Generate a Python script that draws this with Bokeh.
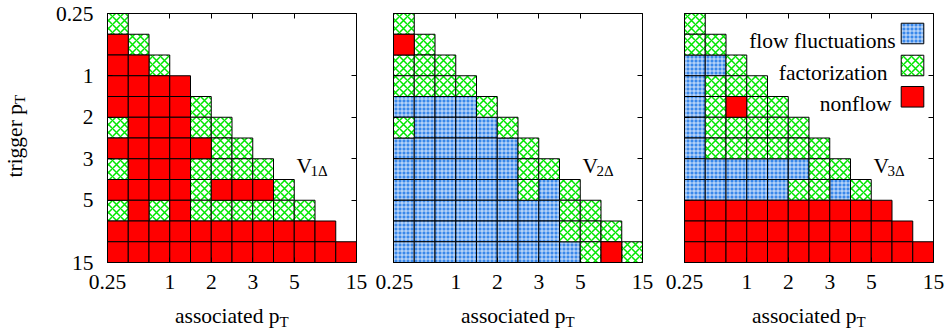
import math
from bokeh.plotting import figure
from bokeh.layouts import row
from bokeh.models import Range1d, FixedTicker, LinearAxis, Label, ColumnDataSource
from bokeh.embed import file_html
from bokeh.resources import INLINE

# ---------------- data ----------------
pt_edges = [0.25, 0.5, 0.75, 1, 1.5, 2, 2.5, 3, 4, 5, 6, 8, 15]
tick_values = [0.25, 1, 2, 3, 5, 15]
tick_labels = ["0.25", "1", "2", "3", "5", "15"]

# one string per trigger-pT bin (top to bottom), one char per associated-pT bin
# B = flow fluctuations, G = factorization, R = nonflow
v1_cells = ["G", "RG", "RRG", "RRRR", "RRRRG", "GRRRGG", "RRRRRGG", "GRRRGGGG",
            "RRRRGRRRG", "GRGRGGGGGG", "RRRRRRRRRRR", "RRRRRRRRRRRR"]
v2_cells = ["G", "RG", "GGG", "GGGG", "BBBBG", "GBBBBG", "BBBBBBG", "BBBBBBGG",
            "BBBBBBGBG", "BBBBBBBBGG", "BBBBBBBBGGG", "BBBBBBBBBGRG"]
v3_cells = ["G", "GG", "BBG", "BGGG", "BGRGG", "BGGGGG", "BGGGGGG", "BBBBBBGG",
            "BBBBBGGBG", "RRRRRRRRRR", "RRRRRRRRRRR", "RRRRRRRRRRRR"]

categories = ["B", "G", "R"]
legend_names = ["flow fluctuations", "factorization", "nonflow"]
panel_subs = ["1Δ", "2Δ", "3Δ"]

# ---------------- style ----------------
FONT = "Liberation Serif"
FS = "21.5px"
FS_SUB = "15px"
styles = {
    "B": dict(fill_color="#3a88ea", hatch_pattern="cross", hatch_color="white",
              hatch_alpha=0.75, hatch_scale=4, hatch_weight=1),
    "G": dict(fill_color="white", hatch_pattern="diagonal_cross", hatch_color="#00e600",
              hatch_scale=8, hatch_weight=1.5),
    "R": dict(fill_color="#ff0000"),
}

NB = len(pt_edges) - 1
BOX = 249
CELL = BOX / NB
FIG_H = 330
BOX_TOP = 13
tick_pos = [pt_edges.index(v) for v in tick_values]


def style_axis(ax, labels, standoff=0):
    ax.ticker = FixedTicker(ticks=tick_pos)
    ax.bounds = (0, NB)
    ax.major_tick_in = 5
    ax.major_tick_out = 0
    ax.minor_tick_in = 0
    ax.minor_tick_out = 0
    ax.axis_line_color = "black"
    ax.axis_line_width = 1
    ax.major_tick_line_color = "black"
    ax.major_label_standoff = standoff
    if labels:
        ax.major_label_overrides = {k: t for k, t in zip(tick_pos, tick_labels)}
        ax.major_label_text_font = FONT
        ax.major_label_text_font_size = FS
        ax.major_label_text_color = "black"
    else:
        ax.major_label_overrides = {k: "" for k in tick_pos}
        ax.major_label_text_font_size = "0px"


def make_panel(cells, sub, fig_left, width, box_left, y_labels, legend=False):
    def X(px):  # page pixel -> data x
        return (px - fig_left - box_left) / CELL

    def Y(py):  # page pixel -> data y
        return (py - BOX_TOP) / CELL

    def lab(text, px, py, size=FS, align="left", angle=0.0):
        p.add_layout(Label(x=X(px), y=Y(py), text=text, text_font=FONT,
                           text_font_size=size, text_align=align,
                           text_baseline="alphabetic", angle=angle, text_color="black"))

    p = figure(width=width, height=FIG_H,
               x_range=Range1d(-box_left / CELL, (width - box_left) / CELL),
               y_range=Range1d((FIG_H - BOX_TOP) / CELL, -BOX_TOP / CELL),
               output_backend="svg", toolbar_location=None, min_border=0,
               min_border_left=0, min_border_right=0, min_border_top=0,
               min_border_bottom=0)
    p.grid.visible = False
    p.outline_line_color = None
    p.background_fill_color = "white"
    p.border_fill_color = "white"

    for cat in categories:
        xs, ys = [], []
        for r, line in enumerate(cells):
            for c, ch in enumerate(line):
                if ch == cat:
                    xs.append(c + 0.5)
                    ys.append(r + 0.5)
        src = ColumnDataSource(dict(x=xs, y=ys))
        p.rect(x="x", y="y", width=1, height=1, source=src, line_color="black",
               line_width=1, **styles[cat])

    style_axis(p.xaxis[0], True, 12)
    p.xaxis[0].fixed_location = NB
    style_axis(p.yaxis[0], y_labels, 14)
    p.yaxis[0].fixed_location = 0
    top_ax = LinearAxis(fixed_location=0)
    style_axis(top_ax, False)
    right_ax = LinearAxis(fixed_location=NB)
    style_axis(right_ax, False)
    p.add_layout(top_ax, "above")
    p.add_layout(right_ax, "right")

    bx = fig_left + box_left
    # x axis title
    split = bx + BOX / 2 + 47.5
    lab("associated p", split, 315.5, align="right")
    lab("T", split, 321.5, size=FS_SUB)

    # panel label
    lab("V", bx + 189, 165)
    lab(sub, bx + 203, 170, size=FS_SUB)

    if y_labels:
        lab("trigger p", 14, 177, angle=math.pi / 2)
        lab("T", 19, 103.6, size=FS_SUB, angle=math.pi / 2)

    if legend:
        text_end = [895, 887, 891]
        base = [40, 72.5, 103.5]
        centers = [33, 65, 96.3]
        for cat, name, te, b, cy in zip(categories, legend_names, text_end, base, centers):
            lab(name, te, b, align="right")
            p.rect(x=[X(912)], y=[Y(cy)], width=1.09, height=0.99,
                   line_color="black", line_width=1, **styles[cat])
    return p


p1 = make_panel(v1_cells, panel_subs[0], 0, 375, 107, True)
p2 = make_panel(v2_cells, panel_subs[1], 375, 288, 18, False)
p3 = make_panel(v3_cells, panel_subs[2], 663, 282, 21, False, legend=True)

layout = row(p1, p2, p3)
open("out.html", "w").write(file_html(layout, INLINE))
